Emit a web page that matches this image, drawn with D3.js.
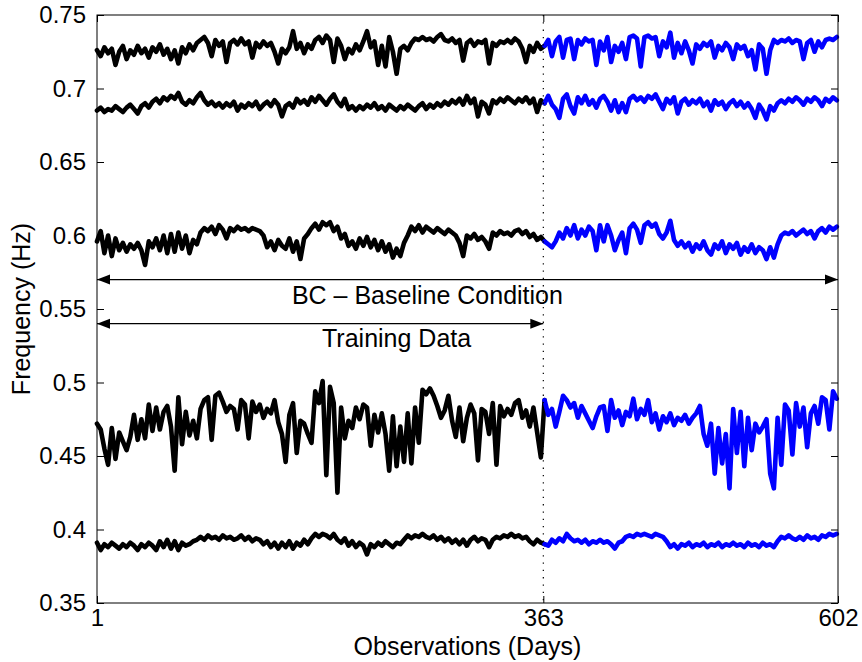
<!DOCTYPE html>
<html>
<head>
<meta charset="utf-8">
<script src="https://cdn.jsdelivr.net/npm/d3@7"></script>
<style>
  body { margin: 0; background: #fff; }
  svg { display: block; font-family: "Liberation Sans", Arial, Helvetica, sans-serif; }
</style>
</head>
<body>
<svg id="chart"></svg>
<script>
// observation days (every third day sampled), split day and tick labels
const days = d3.range(1, 602, 3);
const splitDay = 363;
const xTicks = [1, 363, 602];
const yTicks = [0.35, 0.4, 0.45, 0.5, 0.55, 0.6, 0.65, 0.7, 0.75];

// natural frequencies, values in mHz
const mode1 = [
    726,722,728,724,727,716,725,729,720,726, 723,729,724,727,721,728,725,730,723,727,
    720,726,717,728,724,730,726,731,733,735, 731,722,733,729,732,718,731,733,730,734,
    730,732,721,731,728,732,729,731,725,717, 727,724,728,739,727,731,724,730,727,733,
    735,731,736,733,718,734,729,720,727,724, 730,726,732,739,728,732,716,729,715,735,
    725,710,727,729,726,731,734,733,735,733, 734,732,735,737,733,732,734,731,733,719,
    731,733,729,732,731,733,717,731,729,732, 731,733,731,734,732,727,718,729,725,731,
    727,729,733,722,732,735,721,733,734,720, 733,730,734,732,733,716,732,726,735,718,
    729,725,731,720,735,736,734,715,735,736, 734,735,722,732,728,738,721,731,724,732,
    726,717,730,727,731,729,732,721,729,726, 731,728,720,730,727,729,722,726,713,730,
    727,710,726,733,731,733,732,734,731,733, 732,720,731,733,725,732,728,733,734,733,
    735
];
const mode2 = [
    685,687,684,686,685,688,686,684,687,689, 686,683,688,690,687,691,693,690,694,692,
    695,693,697,691,689,692,690,694,697,692, 689,691,688,690,687,690,688,691,685,689,
    687,690,688,691,686,689,691,688,692,689, 681,688,690,687,693,690,692,689,694,691,
    695,692,689,693,696,691,688,693,686,688, 685,688,686,689,687,690,686,688,685,689,
    687,685,688,686,689,687,685,688,690,686, 689,687,690,688,691,689,692,690,693,689,
    695,690,693,681,691,689,683,692,690,693, 691,694,692,690,693,691,694,690,693,684,
    692,690,695,689,686,680,693,696,688,683, 694,690,695,689,692,687,693,695,691,685,
    692,684,690,684,693,695,692,694,691,695, 693,696,691,686,693,690,694,683,691,693,
    689,692,690,693,688,691,685,692,689,691, 686,690,692,688,691,687,690,686,680,689,
    685,679,688,685,690,692,690,693,691,694, 692,689,693,691,694,692,688,693,691,694,
    692
];
const mode3 = [
    596,603,588,600,586,598,590,595,589,594, 591,595,590,580,596,592,598,590,600,588,
    601,589,602,591,600,588,597,594,602,605, 603,606,601,607,604,598,605,603,606,604,
    605,603,605,604,603,600,592,596,590,597, 593,591,598,589,596,584,598,601,605,608,
    604,609,607,609,603,606,598,601,593,596, 591,598,593,599,592,597,590,596,589,594,
    585,591,586,595,600,606,603,607,602,606, 604,602,605,603,601,604,602,600,595,586,
    600,598,601,597,599,596,591,602,600,603, 601,602,600,603,604,601,603,599,601,597,
    599,596,594,592,596,602,598,605,600,607, 598,604,600,606,603,590,607,596,607,600,
    590,597,602,588,605,608,604,595,607,609, 606,608,601,598,602,610,597,593,596,592,
    595,589,594,591,596,590,587,594,591,596, 588,594,591,595,587,592,589,594,588,592,
    590,584,592,585,594,600,602,601,603,600, 602,604,601,603,598,603,605,602,606,604,
    606
];
const mode4 = [
    472,468,455,444,469,448,466,460,454,463, 478,461,475,462,485,467,483,468,480,484,
    470,440,490,458,480,464,474,462,482,488, 490,461,491,493,487,480,484,482,468,488,
    485,462,487,480,485,476,482,479,488,473, 465,446,478,486,452,474,472,465,459,494,
    486,501,437,497,486,425,483,462,474,469, 483,475,485,483,457,478,466,479,465,440,
    477,443,470,446,479,445,483,459,495,492, 496,491,484,476,481,491,474,463,483,460,
    476,485,479,447,482,480,465,486,444,484, 477,482,478,486,488,476,481,470,483,466,
    449,488,478,482,470,480,491,488,483,486, 476,484,479,474,469,477,483,484,467,488,
    476,481,471,480,477,489,475,482,478,488, 473,479,468,477,473,479,471,476,474,478,
    472,476,479,484,465,457,472,438,469,445, 465,428,482,452,480,443,476,454,472,466,
    470,475,438,428,476,444,485,481,451,486, 470,483,456,479,484,472,490,488,468,494,
    489
];
const mode5 = [
    391,386,390,388,391,389,387,390,388,391, 389,386,390,388,391,389,386,392,388,393,
    387,392,386,391,389,390,392,393,395,393, 396,394,395,393,396,394,395,393,394,396,
    393,395,392,394,393,390,392,388,391,387, 391,388,392,387,391,389,393,390,394,397,
    395,397,396,394,397,393,391,394,389,392, 388,391,389,383,390,388,391,389,392,390,
    388,391,390,393,396,394,396,395,397,395, 394,396,393,395,392,394,391,393,390,393,
    389,393,395,392,394,393,388,393,395,394, 396,395,397,395,396,394,395,392,390,393,
    391,390,389,393,391,394,392,397,394,392, 393,391,393,390,392,391,393,391,392,390,
    387,391,392,395,396,395,397,396,397,396, 395,397,396,395,392,388,390,387,390,389,
    391,388,390,389,391,388,390,389,391,388, 390,389,391,389,390,388,391,389,390,388,
    391,389,390,388,392,395,394,396,394,393, 395,393,396,394,395,393,396,395,397,396,
    397
];
const modes = [mode1, mode2, mode3, mode4, mode5];

// annotation arrows
const bcRange = [1, 602], bcLevel = 0.57;
const trainRange = [1, 363], trainLevel = 0.54;

const width = 862;
const height = 662;
const marginTop = 15;
const marginRight = 24;
const marginBottom = 59;
const marginLeft = 97;
const fontSize = 25;
const tickFontSize = 24;

const x = d3.scaleLinear()
    .domain([1, 602])
    .range([marginLeft, width - marginRight]);

const y = d3.scaleLinear()
    .domain([0.35, 0.75])
    .range([height - marginBottom, marginTop]);

const svg = d3.select('#chart')
    .attr('width', width)
    .attr('height', height);

// split every trace at the end of the training period
const cut = days.findIndex((d) => d >= splitDay);
const line = d3.line()
    .x((d) => x(d[0]))
    .y((d) => y(d[1] / 1000));

const lines = svg.append('g')
    .attr('fill', 'none')
    .attr('stroke-width', 4.6)
    .attr('stroke-linejoin', 'round')
    .attr('stroke-linecap', 'round');

modes.forEach((m) => {
    const pts = days.map((d, i) => [d, m[i]]);
    lines.append('path')
        .attr('stroke', '#000')
        .attr('d', line(pts.slice(0, cut + 1)));
    lines.append('path')
        .attr('stroke', '#0000ff')
        .attr('d', line(pts.slice(cut)));
});

// dotted separator
svg.append('line')
    .attr('x1', x(splitDay)).attr('x2', x(splitDay))
    .attr('y1', y(0.75)).attr('y2', y(0.35))
    .attr('stroke', '#000')
    .attr('stroke-width', 1.2)
    .attr('stroke-dasharray', '1.3,6');

// axes, ticks inward like matlab
svg.append('g')
    .attr('transform', `translate(${marginLeft},0)`)
    .style('font-size', `${tickFontSize}px`)
    .call(d3.axisLeft(y).tickValues(yTicks).tickSize(-7).tickPadding(11)
        .tickFormat((d) => String(+d.toFixed(2))))
    .call((g) => g.select('.domain').remove())
    .call((g) => g.selectAll('text').attr('fill', '#000').attr('font-family', null));

svg.append('g')
    .attr('transform', `translate(${width - marginRight},0)`)
    .call(d3.axisRight(y).tickValues(yTicks).tickSize(-7).tickFormat(''))
    .call((g) => g.select('.domain').remove());

svg.append('g')
    .attr('transform', `translate(0,${height - marginBottom})`)
    .style('font-size', `${tickFontSize}px`)
    .call(d3.axisBottom(x).tickValues(xTicks).tickSize(-7).tickPadding(6))
    .call((g) => g.select('.domain').remove())
    .call((g) => g.selectAll('text').attr('fill', '#000').attr('font-family', null));

svg.append('g')
    .attr('transform', `translate(0,${marginTop})`)
    .call(d3.axisTop(x).tickValues(xTicks).tickSize(-7).tickFormat(''))
    .call((g) => g.select('.domain').remove());

svg.selectAll('.tick line').attr('stroke', '#000');

svg.append('rect')
    .attr('x', marginLeft)
    .attr('y', marginTop)
    .attr('width', width - marginLeft - marginRight)
    .attr('height', height - marginTop - marginBottom)
    .attr('fill', 'none')
    .attr('stroke', '#000')
    .attr('stroke-width', 1);

// arrows
svg.append('defs').append('marker')
    .attr('id', 'head')
    .attr('markerUnits', 'userSpaceOnUse')
    .attr('viewBox', '0 -6 14 12')
    .attr('refX', 13)
    .attr('refY', 0)
    .attr('markerWidth', 14)
    .attr('markerHeight', 12)
    .attr('orient', 'auto-start-reverse')
    .append('path')
    .attr('d', 'M0,-5L13,0L0,5Z')
    .attr('fill', '#000');

const arrows = [
    { range: bcRange, level: bcLevel, label: 'BC – Baseline Condition', at: 269, textLevel: 0.5535 },
    { range: trainRange, level: trainLevel, label: 'Training Data', at: 244, textLevel: 0.5243 },
];

arrows.forEach((a) => {
    svg.append('line')
        .attr('x1', x(a.range[0])).attr('x2', x(a.range[1]))
        .attr('y1', y(a.level)).attr('y2', y(a.level))
        .attr('stroke', '#000')
        .attr('stroke-width', 1.2)
        .attr('marker-start', 'url(#head)')
        .attr('marker-end', 'url(#head)');
    svg.append('text')
        .attr('x', x(a.at))
        .attr('y', y(a.textLevel))
        .attr('text-anchor', 'middle')
        .attr('fill', '#000')
        .style('font-size', `${fontSize}px`)
        .text(a.label);
});

// axis titles
svg.append('text')
    .attr('x', (marginLeft + width - marginRight) / 2)
    .attr('y', 655)
    .attr('text-anchor', 'middle')
    .attr('fill', '#000')
    .style('font-size', `${fontSize}px`)
    .text('Observations (Days)');

svg.append('text')
    .attr('transform', `translate(30,${(marginTop + height - marginBottom) / 2}) rotate(-90)`)
    .attr('text-anchor', 'middle')
    .attr('fill', '#000')
    .style('font-size', `${fontSize}px`)
    .text('Frequency (Hz)');
</script>
</body>
</html>
